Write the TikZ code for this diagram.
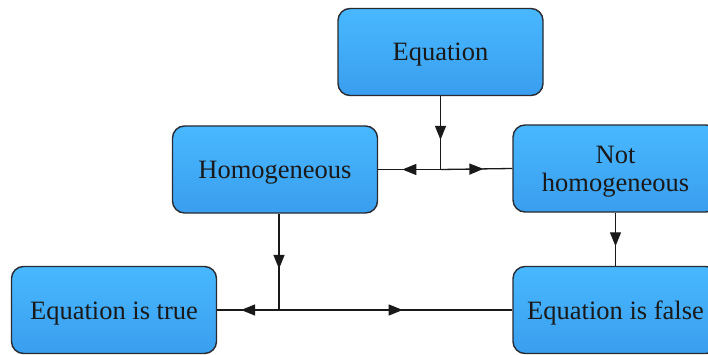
\documentclass[tikz,border=0pt]{standalone}
\usepackage{fontspec}
\setmainfont{Liberation Serif}
\usetikzlibrary{arrows.meta,decorations.markings}
\definecolor{boxtop}{RGB}{72,184,255}
\definecolor{boxbot}{RGB}{58,158,238}
\definecolor{boxline}{RGB}{40,44,50}
\tikzset{
  blockbox/.style={draw=boxline, line width=1.4pt, rounded corners=12pt,
    top color=boxtop, bottom color=boxbot,
    minimum width=205pt, minimum height=87pt, inner sep=2pt,
    text height=18pt, text depth=0pt,
    align=center, font=\fontsize{26.5}{28}\selectfont, text=black!90},
  twoline/.style={text height={}, text depth=-4pt},
  midarrow/.style={line width=1.3pt, draw=black!90, postaction={decorate},
    decoration={markings, mark=at position 0.5 with {\arrow[xshift=7pt]{Triangle[length=14pt,width=11pt]}}}}
}
\begin{document}
\begin{tikzpicture}[x=1pt,y=-1pt]
\clip (0,0) rectangle (708,355);
\fill[white] (0,0) rectangle (708,355);
\node[blockbox] (eq)    at (440.5,52)   {Equation};
\node[blockbox] (hom)   at (275,169.5)  {Homogeneous};
\node[blockbox,twoline] (nh) at (615.5,168.5){Not\\homogeneous};
\node[blockbox] (true)  at (114,310)    {Equation is true};
\node[blockbox] (false) at (615.5,310)  {Equation is false};
\coordinate (j1) at (eq.south |- hom.east);
\coordinate (hb) at ([xshift=4pt]hom.south);
\coordinate (j2) at (hb |- true.east);
\draw[midarrow] (eq.south) -- (j1);
\draw[midarrow] (j1) -- (hom.east);
\draw[midarrow] (j1) -- (nh.west);
\draw[midarrow] (hb) -- (j2);
\draw[midarrow] (j2) -- (true.east);
\draw[midarrow] (j2) -- (false.west);
\draw[midarrow] (nh.south) -- (false.north);
\end{tikzpicture}
\end{document}
